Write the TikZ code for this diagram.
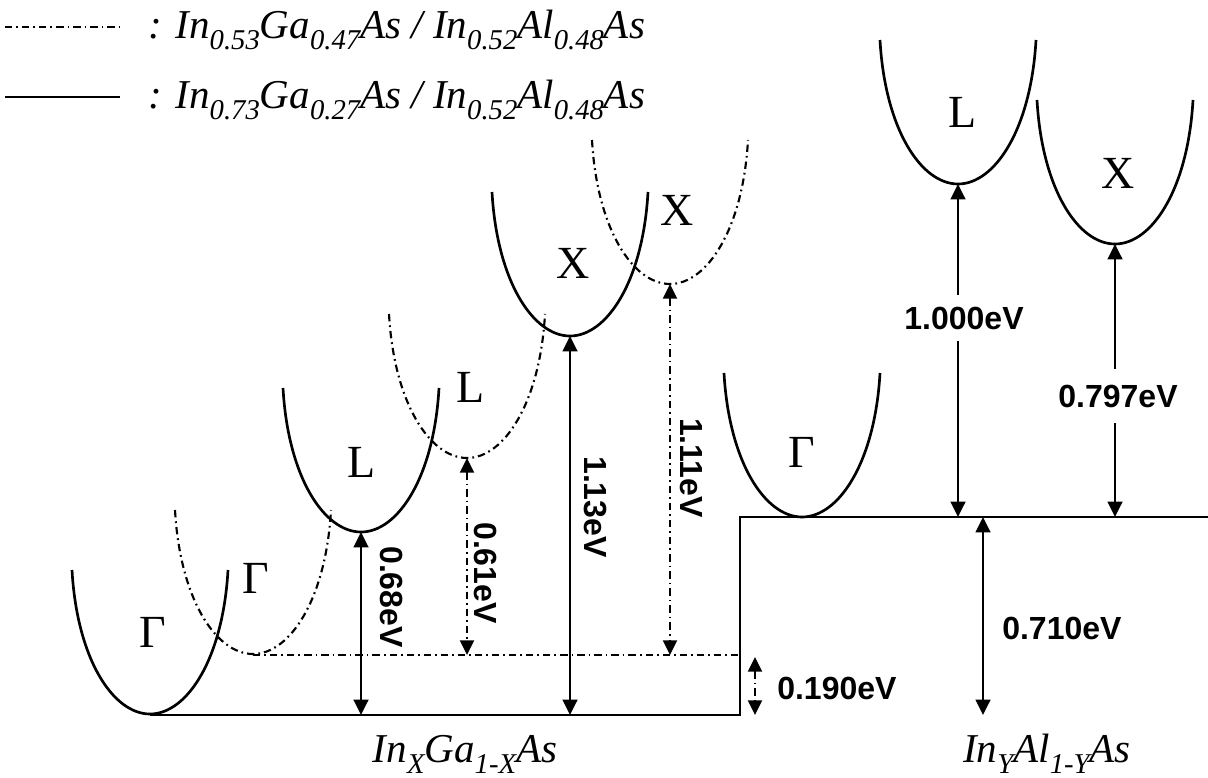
\documentclass[tikz,border=0pt]{standalone}
\usepackage{fontspec}
\setmainfont{Liberation Serif}
\newfontfamily\arialfont{Liberation Sans}
\usetikzlibrary{arrows.meta}
\newcommand\lowsub[1]{\raisebox{-0.27em}{\fontsize{21.5}{22}\selectfont #1}}
\newcommand\valley[4]{%
  \draw[#1] (#2-78,#3-144) .. controls (#2-73,#3-55) and (#2-37,#3) .. (#2,#3)
     .. controls (#2+37,#3) and (#2+73,#3-55) .. (#2+78,#3-144);
  \coordinate (#4) at (#2,#3);}
\tikzset{
  band/.style={line width=2pt},
  dashband/.style={line width=1.6pt, dash pattern=on 5.5pt off 3pt on 1.3pt off 3pt},
  level/.style={line width=2pt},
  dashlevel/.style={line width=1.3pt, dash pattern=on 5.5pt off 3pt on 1.3pt off 3pt},
  gap/.style={line width=1.8pt, {Triangle[width=11pt,length=11.5pt]}-{Triangle[width=11pt,length=11.5pt]}},
  dgap/.style={dashlevel, line width=1.5pt, {Triangle[width=10.5pt,length=11pt]}-{Triangle[width=10.5pt,length=11pt]}},
  lbl/.style={font=\fontsize{34.5}{36}\selectfont, inner sep=0pt},
  ev/.style={font=\arialfont\bfseries\fontsize{24}{24}\selectfont, inner sep=0pt},
  mat/.style={font=\itshape\fontsize{30.75}{32}\selectfont, inner sep=0pt, anchor=base},
}
\begin{document}
\begin{tikzpicture}[x=0.75pt,y=-0.75pt]
\useasboundingbox (0,0) rectangle (1208,778);

% legend
\coordinate (lg1a) at (5,27); \coordinate (lg1b) at (120,27);
\draw[dashlevel] (lg1a) -- (lg1b);
\node[mat, anchor=base west] (lg1) at (148,38) {: In\lowsub{0.53}Ga\lowsub{0.47}As / In\lowsub{0.52}Al\lowsub{0.48}As};
\coordinate (lg2a) at (5,97); \coordinate (lg2b) at (120,97);
\draw[level] (lg2a) -- (lg2b);
\node[mat, anchor=base west] (lg2) at (148,108) {: In\lowsub{0.73}Ga\lowsub{0.27}As / In\lowsub{0.52}Al\lowsub{0.48}As};

% band edges
\coordinate (b0) at (150,715); \coordinate (s1) at (740,715);
\coordinate (s2) at (740,517); \coordinate (b1) at (1208,517);
\draw[level] (b0) -- (s1) -- (s2) -- (b1);
\coordinate (d0) at (253,655); \coordinate (d1) at (740,655);
\draw[dashlevel] (d0) -- (d1);

% valleys, solid
\valley{band}{150}{714}{Ga}
\valley{band}{361}{532}{La}
\valley{band}{570}{336}{Xa}
\valley{band}{802}{517}{Gb}
\valley{band}{958}{184}{Lb}
\valley{band}{1115}{244}{Xb}
% valleys, dash-dot
\valley{dashband}{253}{654}{Gc}
\valley{dashband}{467}{458}{Lc}
\valley{dashband}{670}{284}{Xc}

% valley labels
\node[lbl] (tGa) at (153,632) {Γ};
\node[lbl] (tLa) at (362,462) {L};
\node[lbl] (tXa) at (573,263) {X};
\node[lbl] (tGb) at (802,452) {Γ};
\node[lbl] (tLb) at (963,112) {L};
\node[lbl] (tXb) at (1118,173) {X};
\node[lbl] (tGc) at (256,578) {Γ};
\node[lbl] (tLc) at (471,387) {L};
\node[lbl] (tXc) at (677,210) {X};

% energy gaps, InGaAs
\draw[gap] (La) -- (La |- b0);
\node[ev, rotate=-90] (e068) at (392,597) {0.68eV};
\draw[dgap] (Lc) -- (Lc |- d0);
\node[ev, rotate=-90] (e061) at (486,573) {0.61eV};
\draw[gap] (Xa) -- (Xa |- b0);
\node[ev, rotate=-90] (e113) at (595,507) {1.13eV};
\draw[dgap] (Xc) -- (Xc |- d0);
\node[ev, rotate=-90] (e111) at (691,468) {1.11eV};

% offsets
\coordinate (q1) at (755,657); \coordinate (q2) at (755,715);
\draw[dgap] (q1) -- (q2);
\node[ev, anchor=west] (e190) at (777,688) {0.190eV};
\coordinate (r1) at (983,517); \coordinate (r2) at (983,715);
\draw[gap] (r1) -- (r2);
\node[ev, anchor=west] (e710) at (1002,628) {0.710eV};

% energy gaps, InAlAs
\draw[gap] (Lb) -- (Lb |- b1);
\node[ev, fill=white, inner ysep=9pt] (e1000) at (964,318) {1.000eV};
\draw[gap] (Xb) -- (Xb |- b1);
\node[ev, fill=white, inner ysep=12pt] (e797) at (1118,396) {0.797eV};

% material labels
\node[mat] (mGa) at (465,762) {In\lowsub{X}Ga\lowsub{1-X}As};
\node[mat] (mAl) at (1047,762) {In\lowsub{Y}Al\lowsub{1-Y}As};
\end{tikzpicture}
\end{document}
